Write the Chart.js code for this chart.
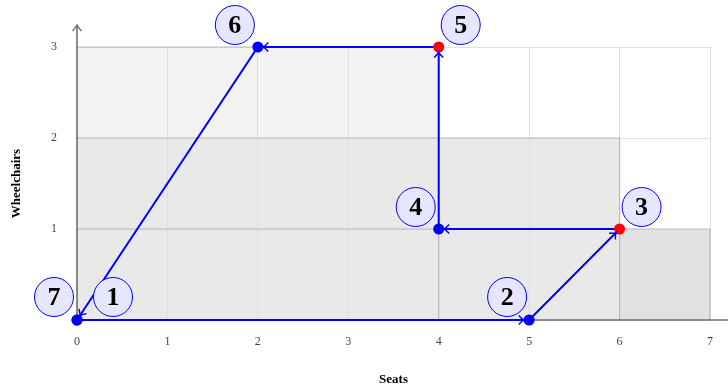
<!DOCTYPE html>
<html><head><meta charset="utf-8">
<script src="https://cdn.jsdelivr.net/npm/chart.js@4/dist/chart.umd.min.js"></script>
<style>html,body{margin:0;padding:0;background:#fff}canvas{display:block}</style>
</head><body>
<canvas id="c" width="728" height="390"></canvas>
<script>
// ---- data ----
const seats = [0, 5, 6, 4, 4, 2, 0];
const wheelchairs = [0, 0, 1, 1, 3, 3, 0];
const stepLabels = ['1', '2', '3', '4', '5', '6', '7'];
const infeasible = [false, false, true, false, true, false, false];
const regionSeats = [4, 6, 7];
const regionWheelchairs = [3, 2, 1];
const xTickLabels = [0, 1, 2, 3, 4, 5, 6, 7];
const yTickLabels = [1, 2, 3];

const SERIF = '"Liberation Serif", "DejaVu Serif", serif';
const BLUE = '#0000ff';

// label placement (style): offsets in px from the point
const labelOffsets = [[36, -23], [-22, -23], [22, -22], [-23, -22], [22, -22], [-23, -22], [-23, -23]];

const pts = seats.map((s, i) => ({ x: s, y: wheelchairs[i] }));

const shading = {
  id: 'shading',
  beforeDraw(chart) {
    const { ctx, scales: { x, y } } = chart;
    const rect = (x0, y0, x1, y1, c) => {
      const px0 = x.getPixelForValue(x0), px1 = x.getPixelForValue(x1);
      const py0 = y.getPixelForValue(y0), py1 = y.getPixelForValue(y1);
      ctx.fillStyle = c;
      ctx.fillRect(px0, py1, px1 - px0, py0 - py1);
    };
    ctx.save();
    rect(0, 0, regionSeats[2], regionWheelchairs[2], '#e1e1e1');
    rect(0, 0, regionSeats[0], regionWheelchairs[0], '#f2f2f2');
    rect(0, 0, regionSeats[1], regionWheelchairs[1], '#e9e9e9');
    ctx.restore();
  },
  beforeDatasetsDraw(chart) {
    const { ctx, scales: { x, y } } = chart;
    ctx.save();
    ctx.strokeStyle = '#b9b9b9';
    ctx.lineWidth = 1.2;
    for (let i = 0; i < regionSeats.length; i++) {
      const px0 = x.getPixelForValue(0), px1 = x.getPixelForValue(regionSeats[i]);
      const py0 = y.getPixelForValue(0), py1 = y.getPixelForValue(regionWheelchairs[i]);
      ctx.beginPath();
      ctx.moveTo(px0, py1); ctx.lineTo(px1, py1); ctx.lineTo(px1, py0);
      ctx.stroke();
    }
    const ox = x.getPixelForValue(0), oy = y.getPixelForValue(0);
    ctx.strokeStyle = '#333';
    ctx.lineWidth = 1.2;
    ctx.beginPath(); ctx.moveTo(ox, oy); ctx.lineTo(chart.width, oy); ctx.stroke();
    ctx.strokeStyle = '#666';
    ctx.lineWidth = 1.5;
    const top = y.getPixelForValue(3) - 22;
    ctx.beginPath(); ctx.moveTo(ox, oy); ctx.lineTo(ox, top); ctx.stroke();
    ctx.lineWidth = 1.2;
    ctx.beginPath();
    ctx.moveTo(ox - 4.5, top + 6); ctx.quadraticCurveTo(ox - 1, top + 2, ox, top);
    ctx.quadraticCurveTo(ox + 1, top + 2, ox + 4.5, top + 6);
    ctx.stroke();
    ctx.restore();
  },
  afterDatasetsDraw(chart) {
    const { ctx, scales: { x, y } } = chart;
    ctx.save();
    ctx.strokeStyle = BLUE;
    ctx.lineWidth = 1.5;
    for (let i = 1; i < pts.length; i++) {
      const ax = x.getPixelForValue(pts[i - 1].x), ay = y.getPixelForValue(pts[i - 1].y);
      const bx = x.getPixelForValue(pts[i].x), by = y.getPixelForValue(pts[i].y);
      const a = Math.atan2(by - ay, bx - ax);
      const tx = bx - Math.cos(a) * 5, ty = by - Math.sin(a) * 5;
      const L = 7, W = 0.7;
      ctx.beginPath();
      ctx.moveTo(tx - L * Math.cos(a - W), ty - L * Math.sin(a - W));
      ctx.quadraticCurveTo(tx - 2 * Math.cos(a - 0.3), ty - 2 * Math.sin(a - 0.3), tx, ty);
      ctx.quadraticCurveTo(tx - 2 * Math.cos(a + 0.3), ty - 2 * Math.sin(a + 0.3), tx - L * Math.cos(a + W), ty - L * Math.sin(a + W));
      ctx.stroke();
    }
    ctx.restore();
  },
  afterDraw(chart) {
    const { ctx, scales: { x, y } } = chart;
    ctx.save();
    for (let i = 0; i < pts.length; i++) {
      const cx = x.getPixelForValue(pts[i].x) + labelOffsets[i][0];
      const cy = y.getPixelForValue(pts[i].y) + labelOffsets[i][1];
      ctx.beginPath();
      ctx.arc(cx, cy, 19.5, 0, Math.PI * 2);
      ctx.fillStyle = '#e6e6ff';
      ctx.fill();
      ctx.strokeStyle = BLUE;
      ctx.lineWidth = 1;
      ctx.stroke();
      ctx.fillStyle = '#000';
      ctx.font = 'bold 26px ' + SERIF;
      ctx.textAlign = 'center';
      ctx.textBaseline = 'middle';
      ctx.fillText(stepLabels[i], cx, cy + 1);
    }
    ctx.restore();
  }
};

new Chart(document.getElementById('c'), {
  type: 'scatter',
  data: {
    datasets: [{
      data: pts,
      showLine: true,
      clip: false,
      borderColor: BLUE,
      borderWidth: 2,
      pointRadius: 5.5,
      pointBorderWidth: 0,
      pointBackgroundColor: infeasible.map(f => f ? '#ff0000' : BLUE),
      pointBorderColor: infeasible.map(f => f ? '#ff0000' : BLUE),
      tension: 0
    }]
  },
  options: {
    responsive: false,
    animation: false,
    events: [],
    layout: { padding: { top: 47, right: 16, left: 0, bottom: 0 } },
    plugins: { legend: { display: false }, tooltip: { enabled: false } },
    scales: {
      x: {
        type: 'linear', min: 0, max: 7,
        afterBuildTicks: s => { s.ticks = xTickLabels.map(v => ({ value: v })); },
        afterFit: s => { s.height = 70; },
        grid: { color: '#e0e0e0', lineWidth: 1, drawTicks: false },
        border: { display: false },
        ticks: { padding: 15, color: '#444', font: { family: SERIF, size: 12 }, maxRotation: 0 },
        title: { display: true, text: 'Seats', color: '#000', font: { family: SERIF, size: 13, weight: 'bold' }, padding: { top: 0, bottom: 3 } }
      },
      y: {
        type: 'linear', min: 0, max: 3,
        afterBuildTicks: s => { s.ticks = [0].concat(yTickLabels).map(v => ({ value: v })); },
        afterFit: s => { s.width = 77; },
        grid: { color: '#e0e0e0', lineWidth: 1, drawTicks: false },
        border: { display: false },
        ticks: { padding: 20, color: '#444', font: { family: SERIF, size: 12 }, callback: v => yTickLabels.includes(v) ? String(v) : '' },
        title: { display: true, text: 'Wheelchairs', color: '#000', font: { family: SERIF, size: 13, weight: 'bold' }, padding: { top: 9, bottom: 0 } }
      }
    }
  },
  plugins: [shading]
});
</script>
</body></html>
